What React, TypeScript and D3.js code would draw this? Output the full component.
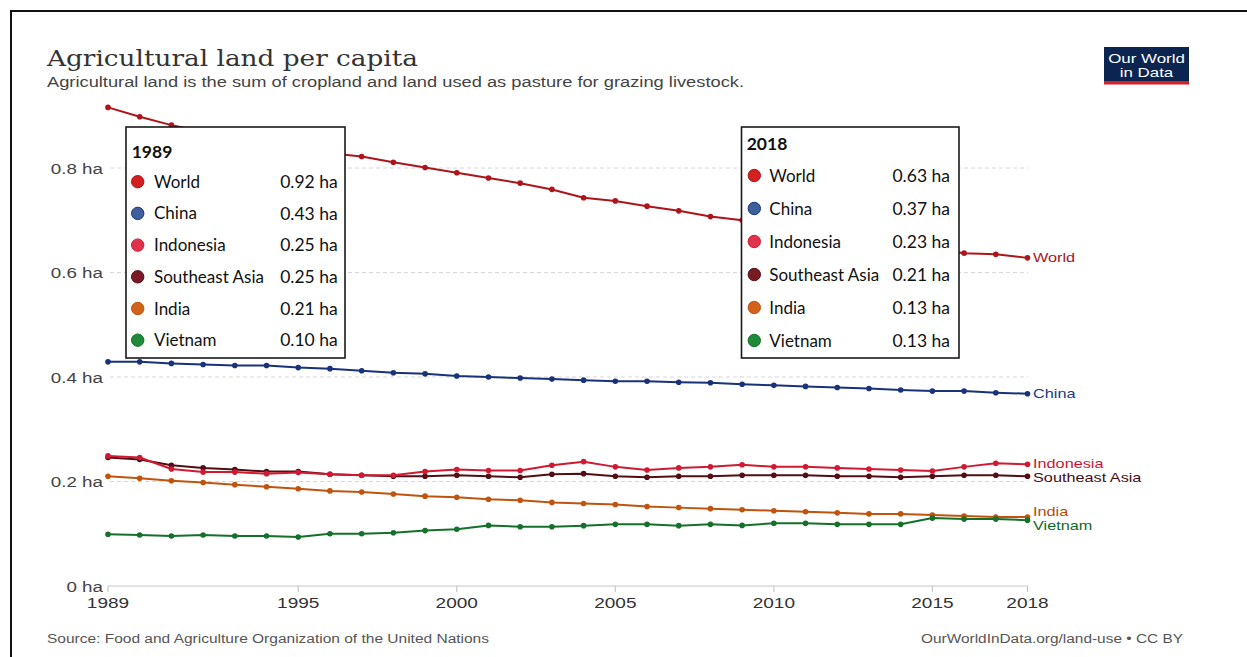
import React from "react";
import * as d3 from "d3";

const years = [1989,1990,1991,1992,1993,1994,1995,1996,1997,1998,1999,2000,2001,2002,2003,2004,2005,2006,2007,2008,2009,2010,2011,2012,2013,2014,2015,2016,2017,2018];

const world = [0.916,0.898,0.882,0.870,0.858,0.848,0.838,0.828,0.822,0.811,0.801,0.791,0.781,0.771,0.759,0.743,0.737,0.727,0.718,0.707,0.700,0.692,0.683,0.674,0.665,0.656,0.646,0.637,0.635,0.628];
const china = [0.429,0.429,0.426,0.424,0.422,0.422,0.418,0.416,0.412,0.408,0.406,0.402,0.400,0.398,0.396,0.394,0.392,0.392,0.390,0.389,0.386,0.384,0.382,0.380,0.378,0.375,0.373,0.373,0.370,0.368];
const indonesia = [0.249,0.246,0.224,0.218,0.218,0.215,0.217,0.214,0.212,0.212,0.219,0.223,0.221,0.221,0.231,0.238,0.228,0.222,0.226,0.228,0.232,0.228,0.228,0.226,0.224,0.222,0.220,0.228,0.235,0.233];
const southeastAsia = [0.246,0.242,0.231,0.226,0.223,0.219,0.219,0.214,0.212,0.210,0.210,0.212,0.210,0.208,0.214,0.215,0.210,0.208,0.210,0.210,0.212,0.212,0.212,0.210,0.210,0.208,0.210,0.212,0.212,0.210];
const india = [0.210,0.206,0.2015,0.198,0.194,0.190,0.186,0.182,0.180,0.176,0.172,0.170,0.166,0.164,0.160,0.158,0.156,0.152,0.150,0.148,0.146,0.144,0.142,0.140,0.138,0.138,0.136,0.134,0.132,0.132];
const vietnam = [0.099,0.0976,0.0957,0.0976,0.0957,0.0957,0.0938,0.100,0.100,0.102,0.106,0.1085,0.116,0.1135,0.1135,0.1155,0.118,0.118,0.1155,0.118,0.116,0.120,0.120,0.118,0.118,0.118,0.130,0.128,0.128,0.126];

const seriesNames = ["World", "China", "Indonesia", "Southeast Asia", "India", "Vietnam"];
const seriesValues = [world, china, indonesia, southeastAsia, india, vietnam];
const lineColors = ["#ad141c", "#19327a", "#d11a32", "#520e14", "#c0540e", "#15702a"];
const labelColors = ["#a8141c", "#1d3a7c", "#c8152e", "#4a0d12", "#b44c08", "#106a26"];
const dotColors = ["#d3211f", "#3d5f9c", "#e0324a", "#7a1a22", "#d0621c", "#1e8a3a"];
const drawOrder = [0, 1, 3, 2, 4, 5];

const xTicks = [1989, 1995, 2000, 2005, 2010, 2015, 2018];
const yTicks = [0, 0.2, 0.4, 0.6, 0.8];
const tooltipYears = [1989, 2018];

const W = 1247, H = 657;
const SANS = "'Liberation Sans', Arial, sans-serif";
const LATO = "Lato, 'Open Sans', sans-serif";

function SText({ x, y, sx = 1.27, anchor = "start", size, fill, children, weight }: any) {
  return (
    <text transform={`translate(${x},${y}) scale(${sx},1)`} textAnchor={anchor} fontSize={size}
      fill={fill} fontFamily={SANS} fontWeight={weight}>{children}</text>
  );
}

function placeLabels(ys: number[], gap: number) {
  const items = ys.map((y, i) => ({ i, y }));
  items.sort((a, b) => a.y - b.y);
  for (let it = 0; it < 50; it++) {
    for (let k = 1; k < items.length; k++) {
      const d = items[k].y - items[k - 1].y;
      if (d < gap) {
        const m = (gap - d) / 2;
        items[k - 1].y -= m;
        items[k].y += m;
      }
    }
  }
  const out = new Array(ys.length);
  items.forEach((o) => (out[o.i] = o.y));
  return out;
}

export default function App() {
  const x = d3.scaleLinear().domain([1989, 2018]).range([108, 1027.5]);
  const y = d3.scaleLinear().domain([0, 0.8]).range([586, 168]);
  const line = d3.line<number>().x((_, i) => x(years[i])).y((v) => y(v));

  const endYs = seriesValues.map((s) => y(s[s.length - 1]));
  const labelYs = placeLabels(endYs, 14.6);

  const boxes = [
    { left: 126, top: 127, w: 219, h: 231, headY: 158, row0: 181.7, step: 31.7, cx: 11.7, nx: 28, vr: 7.3, hx: 5.7 },
    { left: 741.5, top: 127, w: 217.5, h: 231, headY: 149.5, row0: 175.5, step: 33, cx: 12.8, nx: 27.8, vr: 9, hx: 5.2 },
  ];

  return (
    <div style={{ position: "fixed", left: 0, top: 0, width: W, height: H, background: "#fff" }}>
      <svg width={W} height={H} style={{ display: "block" }}>
        <rect x={0} y={0} width={W} height={H} fill="#fff" />
        {/* frame */}
        <line x1={10} y1={11} x2={W} y2={11} stroke="#111" strokeWidth={2} />
        <line x1={11} y1={10} x2={11} y2={H} stroke="#111" strokeWidth={2} />

        {/* title */}
        <text x={47} y={66} fontFamily="'DejaVu Serif', 'Liberation Serif', serif" fontSize={22}
          fill="#333" textLength={371} lengthAdjust="spacingAndGlyphs">Agricultural land per capita</text>
        <text x={47} y={87} fontFamily={SANS} fontSize={14} fill="#444" textLength={697}
          lengthAdjust="spacingAndGlyphs">Agricultural land is the sum of cropland and land used as pasture for grazing livestock.</text>

        {/* logo */}
        <g>
          <rect x={1104} y={47} width={85} height={37} fill="#0c2450" />
          <rect x={1104} y={81} width={85} height={3.5} fill="#d42027" />
          <SText x={1146.5} y={62.5} sx={1.28} anchor="middle" size={13.2} fill="#fff">Our World</SText>
          <SText x={1146.5} y={76.5} sx={1.28} anchor="middle" size={13.2} fill="#fff">in Data</SText>
        </g>

        {/* grid */}
        {yTicks.filter((t) => t > 0).map((t) => (
          <line key={t} x1={110} x2={1028} y1={y(t)} y2={y(t)} stroke="#d6d6d6" strokeDasharray="4,3" strokeWidth={1} />
        ))}
        <line x1={108} x2={1028} y1={y(0)} y2={y(0)} stroke="#c8c8c8" strokeWidth={1.2} />
        {xTicks.map((t) => (
          <line key={t} x1={x(t)} x2={x(t)} y1={y(0)} y2={y(0) + 6} stroke="#c8c8c8" strokeWidth={1.2} />
        ))}
        {yTicks.map((t) => (
          <SText key={t} x={103} y={y(t) + 5.5} anchor="end" size={14.8} fill="#444">{`${d3.format("~g")(t)} ha`}</SText>
        ))}
        {xTicks.map((t) => (
          <SText key={t} x={x(t)} y={607.5} anchor="middle" size={15} fill="#333">{String(t)}</SText>
        ))}

        {/* lines */}
        {drawOrder.map((si) => (
          <g key={si}>
            <path d={line(seriesValues[si]) || ""} fill="none" stroke={lineColors[si]} strokeWidth={2} strokeLinejoin="round" />
            {seriesValues[si].map((v, i) => (
              <circle key={i} cx={x(years[i])} cy={y(v)} r={2.8} fill={lineColors[si]} />
            ))}
          </g>
        ))}

        {/* line labels */}
        {seriesNames.map((n, si) => (
          <SText key={n} x={1033} y={labelYs[si] + 4.6} size={12.8} fill={labelColors[si]}>{n}</SText>
        ))}

        {/* tooltips */}
        {tooltipYears.map((yr, bi) => {
          const b = boxes[bi];
          const idx = years.indexOf(yr);
          return (
            <g key={yr}>
              <rect x={b.left} y={b.top} width={b.w} height={b.h} fill="#fff" stroke="#1a1a1a" strokeWidth={1.6} />
              <text x={b.left + b.hx} y={b.headY} fontFamily={LATO} fontWeight={700} fontSize={17.5} fill="#111">{yr}</text>
              {seriesNames.map((n, si) => {
                const cy = b.row0 + si * b.step;
                return (
                  <g key={n}>
                    <circle cx={b.left + b.cx} cy={cy} r={6.2} fill={dotColors[si]} stroke={lineColors[si]} strokeWidth={1} />
                    <text x={b.left + b.nx} y={cy + 6} fontFamily={LATO} fontSize={17} fill="#111">{n}</text>
                    <text x={b.left + b.w - b.vr} y={cy + 6.2} textAnchor="end" fontFamily={LATO} fontSize={17.5} fill="#111">
                      {`${seriesValues[si][idx].toFixed(2)} ha`}
                    </text>
                  </g>
                );
              })}
            </g>
          );
        })}

        {/* footer */}
        <text x={47} y={643} fontFamily={SANS} fontSize={12.5} fill="#555" textLength={442} lengthAdjust="spacingAndGlyphs">Source: Food and Agriculture Organization of the United Nations</text>
        <text x={921} y={643} fontFamily={SANS} fontSize={12.5} fill="#555" textLength={262} lengthAdjust="spacingAndGlyphs">OurWorldInData.org/land-use • CC BY</text>
      </svg>
    </div>
  );
}
